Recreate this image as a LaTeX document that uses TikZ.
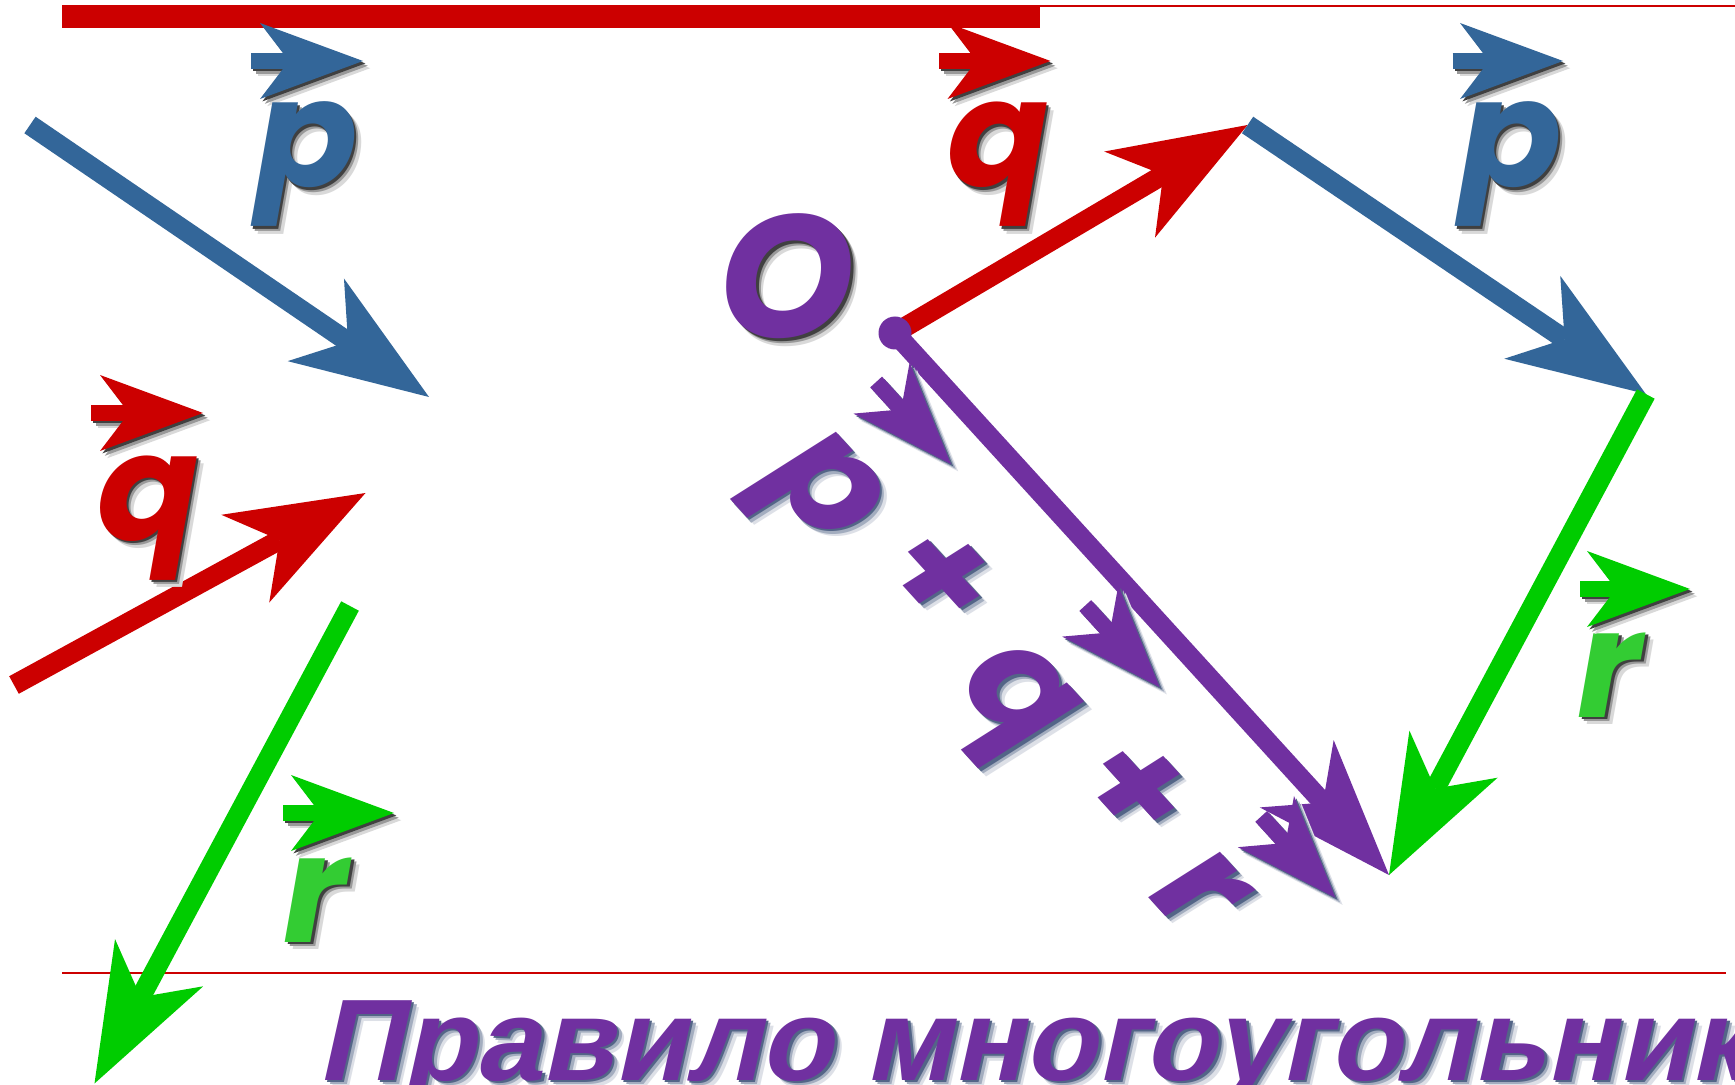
\documentclass[tikz,border=0pt]{standalone}
\usepackage{fontspec}
\usetikzlibrary{calc}
\newfontfamily\geo{Poppins}
\newfontfamily\ttlfont{Liberation Sans}[FakeSlant=0.22]
\definecolor{cred}{RGB}{204,0,0}
\definecolor{cblue}{RGB}{51,102,153}
\definecolor{cgreen}{RGB}{0,204,0}
\definecolor{cgreenL}{RGB}{51,204,51}
\definecolor{cpur}{RGB}{112,48,160}
\definecolor{cnavy}{RGB}{25,50,95}
\tikzset{
  let/.style={font=\geo\bfseries\itshape\fontsize{75}{75}\selectfont, inner sep=0pt},
  bigO/.style={font=\geo\bfseries\itshape\fontsize{87}{87}\selectfont, inner sep=0pt},
  ttl/.style={font=\ttlfont\bfseries\fontsize{58}{58}\selectfont, inner sep=0pt, anchor=base west, xscale=1.02},
  rule/.style={cred, line width=1pt},
}
% generic arrow: #1 colour, #2 tail, #3 tip, #4 head length, #5 half width, #6 notch distance, #7 shaft width
\newcommand\arrowshape[7]{%
  \coordinate (hh) at ($(#3)!#4!(#2)$);
  \coordinate (nn) at ($(#3)!#6!(#2)$);
  \draw[#1, line width=#7] (#2) -- (nn);
  \fill[#1] (#3) -- ($(hh)!#5!90:(#3)$) -- (nn) -- ($(hh)!#5!-90:(#3)$) -- cycle;}
\newcommand\bigvec[3]{\arrowshape{#1}{#2}{#3}{68.5pt}{25pt}{49pt}{10pt}}
\newcommand\smallvec[3]{\arrowshape{#1}{#2}{#3}{51.5pt}{19pt}{37pt}{8pt}}
% soft shadow: #1 shadow colour, #2 macro taking a colour, #3 main colour
\newcommand\shadowed[3]{%
  \begin{scope}[transform canvas={shift={(3.6pt,-3.6pt)}}]#2{#1!15}\end{scope}
  \begin{scope}[transform canvas={shift={(2.4pt,-2.4pt)}}]#2{#1!40}\end{scope}
  \begin{scope}[transform canvas={shift={(1.2pt,-1.2pt)}}]#2{#1!75}\end{scope}
  #2{#3}}
% labelled letters
\newcommand\LpL[1]{\node[let,text=#1,anchor=base] (pL) at (307,187) {p};\smallvec{#1}{apL0}{apL1}}
\newcommand\LqL[1]{\node[let,text=#1,anchor=base] (qL) at (148,540) {q};\smallvec{#1}{aqL0}{aqL1}}
\newcommand\LrLt[1]{\node[let,text=#1,anchor=base] (rL) at (316,942) {r};}
\newcommand\LrLa[1]{\smallvec{#1}{arL0}{arL1}}
\newcommand\LqR[1]{\node[let,text=#1,anchor=base] (qR) at (998,187) {q};\smallvec{#1}{aqR0}{aqR1}}
\newcommand\LpR[1]{\node[let,text=#1,anchor=base] (pR) at (1511,187) {p};\smallvec{#1}{apR0}{apR1}}
\newcommand\LrRt[1]{\node[let,text=#1,anchor=base] (rR) at (1610,717) {r};}
\newcommand\LrRa[1]{\smallvec{#1}{arR0}{arR1}}
\newcommand\LO[1]{\node[bigO,text=#1,anchor=base] (Olbl) at (787,338) {O};}
\newcommand\Ltitle[1]{\node[ttl,text=#1] (title) at (317,1080) {Правило многоугольника};}
\newcommand\Lsum[1]{%
  \begin{scope}[shift={(O)}, rotate=-47.65, transform shape]
    \node[let,text=#1,anchor=base] (sp) at (68,194) {p};
    \node[let,text=#1,anchor=center] (splus1) at (210,133) {+};
    \node[let,text=#1,anchor=base] (sq) at (352,192) {q};
    \node[let,text=#1,anchor=center] (splus2) at (498,132) {+};
    \node[let,text=#1,anchor=base] (sr) at (619,193) {r};
    \coordinate (sa0) at (23.5,47);  \coordinate (sa1) at (134.6,47);
    \coordinate (sb0) at (329.6,43); \coordinate (sb1) at (440,43);
    \coordinate (sc0) at (604,55);   \coordinate (sc1) at (714,55);
  \end{scope}
  \smallvec{#1}{sa0}{sa1}\smallvec{#1}{sb0}{sb1}\smallvec{#1}{sc0}{sc1}}

\begin{document}
\begin{tikzpicture}[x=0.5pt, y=-0.5pt]
\fill[white] (0,0) rectangle (1735,1085);
\useasboundingbox (0,0) rectangle (1735,1085);
\clip (0,0) rectangle (1735,1085);

% frame lines
\coordinate (t0) at (62,6);   \coordinate (t1) at (1735,6);
\coordinate (b0) at (62,973); \coordinate (b1) at (1726,973);
\draw[rule] (t0) -- (t1);
\draw[rule] (b0) -- (b1);
\fill[cred] (62,5) rectangle (1040,28);

% free vectors (left)
\coordinate (bpL0) at (30,125);   \coordinate (bpL1) at (429,397);
\coordinate (rqL0) at (14,685);   \coordinate (rqL1) at (365.5,493);
\coordinate (grL0) at (350,606);  \coordinate (grL1) at (94.5,1083.5);
\bigvec{cblue}{bpL0}{bpL1}
\bigvec{cred}{rqL0}{rqL1}
\bigvec{cgreen}{grL0}{grL1}

% polygon
\coordinate (O) at (895,333);
\coordinate (Q1) at (1247.6,125);
\coordinate (P1) at (1645.8,394);
\coordinate (R1) at (1389,875);
\bigvec{cred}{O}{Q1}
\bigvec{cblue}{Q1}{P1}
\bigvec{cgreen}{P1}{R1}
\bigvec{cpur}{O}{R1}
\node[circle, fill=cpur, minimum size=16.5pt, inner sep=0pt] (dot) at (O) {};

% small vector arrows over letters
\coordinate (apL0) at (251,61);    \coordinate (apL1) at (363,61);
\coordinate (aqL0) at (91,413);    \coordinate (aqL1) at (203,413);
\coordinate (arL0) at (283,813);   \coordinate (arL1) at (394,813);
\coordinate (aqR0) at (939,61);    \coordinate (aqR1) at (1050.5,61);
\coordinate (apR0) at (1452.6,61); \coordinate (apR1) at (1563,61);
\coordinate (arR0) at (1580,589);  \coordinate (arR1) at (1690,589);

\shadowed{black}{\LpL}{cblue}
\shadowed{black}{\LqL}{cred}
\shadowed{black}{\LrLt}{cgreenL}
\shadowed{black}{\LrLa}{cgreen}
\shadowed{black}{\LqR}{cred}
\shadowed{black}{\LpR}{cblue}
\shadowed{black}{\LrRt}{cgreenL}
\shadowed{black}{\LrRa}{cgreen}
\shadowed{black}{\LO}{cpur}
\shadowed{cnavy}{\Lsum}{cpur}
\shadowed{cnavy}{\Ltitle}{cpur}
\end{tikzpicture}
\end{document}
